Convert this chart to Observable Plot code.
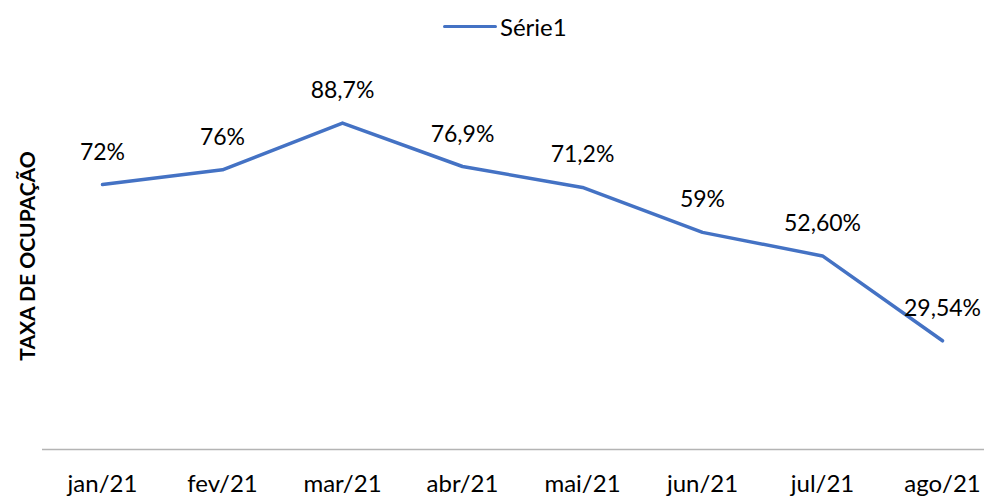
<!DOCTYPE html>
<html>
<head>
<meta charset="utf-8">
<script src="https://cdn.jsdelivr.net/npm/d3@7"></script>
<script src="https://cdn.jsdelivr.net/npm/@observablehq/plot@0.6"></script>
<style>
  html, body { margin: 0; padding: 0; background: #fff; overflow: hidden; }
  #wrap { position: relative; width: 984px; height: 500px; font-family: Lato, "Open Sans", sans-serif; }
  #legend { position: absolute; left: 443px; top: 12px; display: flex; align-items: center; font-size: 24px; color: #000; }
  #legend .sw { width: 54px; height: 0; border-top: 3.5px solid #4472C4; border-radius: 2px; margin-right: 3px; }
  #ytitle { position: absolute; left: 26px; top: 256px; transform: translate(-50%, -50%) rotate(-90deg); white-space: nowrap; font-weight: bold; font-size: 21px; color: #000; }
  #chart { position: absolute; left: 0; top: 0; }
</style>
</head>
<body>
<div id="wrap">
  <div id="chart"></div>
  <div id="legend"><span class="sw"></span><span>Série1</span></div>
  <div id="ytitle">TAXA DE OCUPAÇÃO</div>
</div>
<script>
const months = ["jan/21", "fev/21", "mar/21", "abr/21", "mai/21", "jun/21", "jul/21", "ago/21"];
const values = [72, 76, 88.7, 76.9, 71.2, 59, 52.6, 29.54];
const valueLabels = ["72%", "76%", "88,7%", "76,9%", "71,2%", "59%", "52,60%", "29,54%"];

const data = months.map((m, i) => ({month: m, value: values[i], label: valueLabels[i]}));

const chart = Plot.plot({
  width: 984,
  height: 500,
  marginTop: 81,
  marginBottom: 51,
  marginLeft: 42,
  marginRight: 0,
  style: {fontFamily: "Lato, 'Open Sans', sans-serif", fontSize: "24px", color: "#000", background: "transparent"},
  x: {type: "point", domain: months, range: [102, 942], padding: 0},
  y: {domain: [0, 100], axis: null},
  marks: [
    Plot.ruleY([0], {stroke: "#b4b4b4", strokeWidth: 1.3}),
    Plot.axisX({tickSize: 0, tickPadding: 25, fontSize: 24, label: null, fill: "#000"}),
    Plot.lineY(data, {x: "month", y: "value", stroke: "#4472C4", strokeWidth: 3.5, strokeLinejoin: "round", strokeLinecap: "round"}),
    Plot.text(data, {x: "month", y: "value", text: "label", textAnchor: "middle", lineAnchor: "bottom", dy: -25, fontSize: 23, fill: "#000"})
  ]
});
document.getElementById("chart").appendChild(chart);
</script>
</body>
</html>
